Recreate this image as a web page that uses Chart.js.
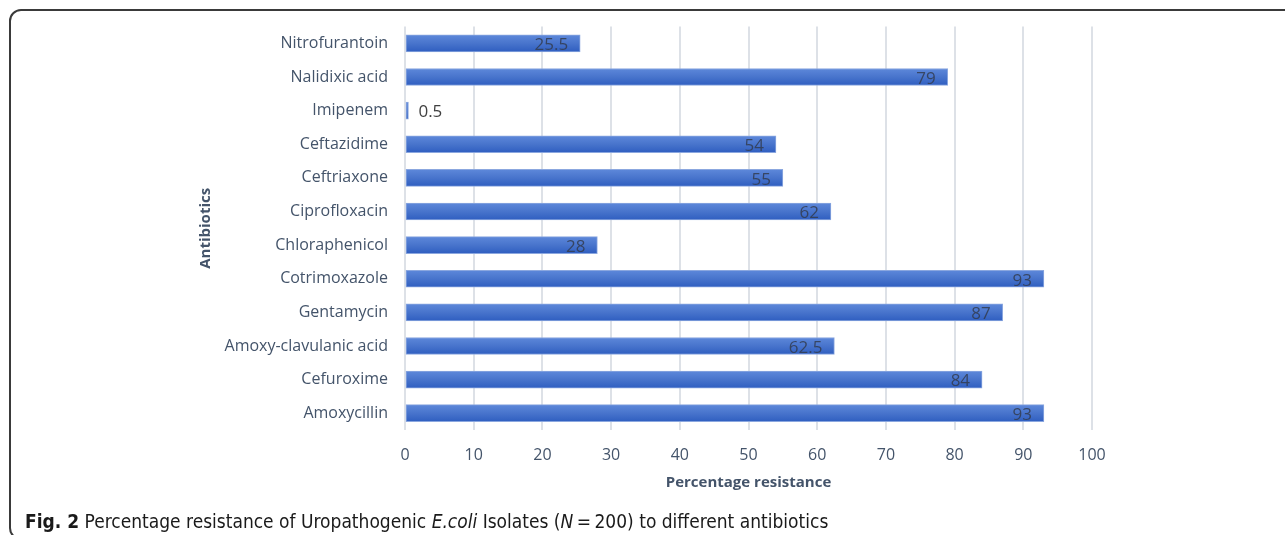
<!DOCTYPE html>
<html>
<head>
<meta charset="utf-8">
<script src="https://cdn.jsdelivr.net/npm/chart.js@4.4.1/dist/chart.umd.min.js"></script>
<style>
  html, body { margin: 0; padding: 0; background: #fff; overflow: hidden; }
  #wrap { position: relative; width: 1285px; height: 535px; }
  #frame {
    position: absolute; left: 9px; top: 9px; width: 1400px; height: 531px;
    border: 2px solid #3a3a3a; border-radius: 12px; box-sizing: border-box;
  }
  canvas { position: absolute; left: 0; top: 0; }
  #caption {
    position: absolute; left: 25px; top: 510px; white-space: nowrap;
    font-family: "DejaVu Sans Condensed", "Liberation Sans Narrow", sans-serif;
    font-size: 19px; color: #1a1a1a;
  }
  #caption b { font-weight: bold; }
</style>
</head>
<body>
<div id="wrap">
  <div id="frame"></div>
  <canvas id="chart" width="1285" height="535"></canvas>
  <div id="caption"><b>Fig. 2</b> Percentage resistance of Uropathogenic <i>E.coli</i> Isolates (<i>N</i>&#8201;=&#8201;200) to different antibiotics</div>
</div>
<script>
// Antibiotics, listed top to bottom
const antibiotics = [
  'Nitrofurantoin', 'Nalidixic acid', 'Imipenem', 'Ceftazidime', 'Ceftriaxone',
  'Ciprofloxacin', 'Chloraphenicol', 'Cotrimoxazole', 'Gentamycin',
  'Amoxy-clavulanic acid', 'Cefuroxime', 'Amoxycillin'
];
// Percentage of isolates resistant to each antibiotic
const resistance = [25.5, 79, 0.5, 54, 55, 62, 28, 93, 87, 62.5, 84, 93];
// Percentage axis ticks
const percentTicks = [0, 10, 20, 30, 40, 50, 60, 70, 80, 90, 100];

const FONT = '"Open Sans", "Liberation Sans", sans-serif';
const TEXT = '#44546a';
const BAR_H = 17;

// Vertical shading across each horizontal bar
function barFill(ctx) {
  const chart = ctx.chart;
  const y = chart.scales.y;
  if (!y || ctx.dataIndex === undefined) return '#4472c4';
  const c = y.getPixelForValue(ctx.dataIndex);
  if (!isFinite(c)) return '#4472c4';
  const g = chart.ctx.createLinearGradient(0, c - BAR_H / 2, 0, c + BAR_H / 2);
  g.addColorStop(0, '#5d88da');
  g.addColorStop(0.5, '#4874cc');
  g.addColorStop(1, '#2f5ec0');
  return g;
}

// Value labels: inside the bar end, or just past it when the bar is too short
const valueLabels = {
  id: 'valueLabels',
  afterDatasetsDraw(chart) {
    const ctx = chart.ctx;
    const meta = chart.getDatasetMeta(0);
    const values = chart.data.datasets[0].data;
    ctx.save();
    ctx.font = '17px ' + FONT;
    ctx.textBaseline = 'middle';
    meta.data.forEach((bar, i) => {
      const txt = String(values[i]);
      const w = ctx.measureText(txt).width;
      const len = bar.x - bar.base;
      if (len > w + 16) {
        ctx.textAlign = 'right';
        ctx.fillStyle = 'rgba(50,60,80,0.85)';
        ctx.fillText(txt, bar.x - 12, bar.y + 2);
      } else {
        ctx.textAlign = 'left';
        ctx.fillStyle = '#404040';
        ctx.fillText(txt, bar.x + 10, bar.y + 2);
      }
    });
    ctx.restore();
  }
};

new Chart(document.getElementById('chart'), {
  type: 'bar',
  data: {
    labels: antibiotics,
    datasets: [{
      data: resistance,
      backgroundColor: barFill,
      borderColor: '#8ba7df',
      borderWidth: 1,
      borderSkipped: false,
      barThickness: BAR_H
    }]
  },
  options: {
    indexAxis: 'y',
    responsive: false,
    animation: false,
    events: [],
    layout: { padding: { left: 193, right: 193, top: 26, bottom: 39 } },
    plugins: { legend: { display: false }, tooltip: { enabled: false } },
    scales: {
      x: {
        min: 0, max: 100,
        afterBuildTicks(scale) { scale.ticks = percentTicks.map(v => ({ value: v })); },
        afterFit(scale) { scale.height = 66; },
        grid: { color: '#dde1e7', lineWidth: 2, drawTicks: false },
        border: { display: false },
        ticks: { color: TEXT, font: { family: FONT, size: 16 }, padding: 16 },
        title: {
          display: true, text: 'Percentage resistance', color: TEXT,
          font: { family: FONT, size: 15, weight: 'bold' }
        }
      },
      y: {
        afterFit(scale) { scale.width = 212; },
        grid: { display: false, drawTicks: false },
        border: { display: false },
        ticks: { color: TEXT, font: { family: FONT, size: 16 }, padding: 17 },
        title: {
          display: true, text: 'Antibiotics', color: TEXT,
          font: { family: FONT, size: 15, weight: 'bold' }
        }
      }
    }
  },
  plugins: [valueLabels]
});
</script>
</body>
</html>
